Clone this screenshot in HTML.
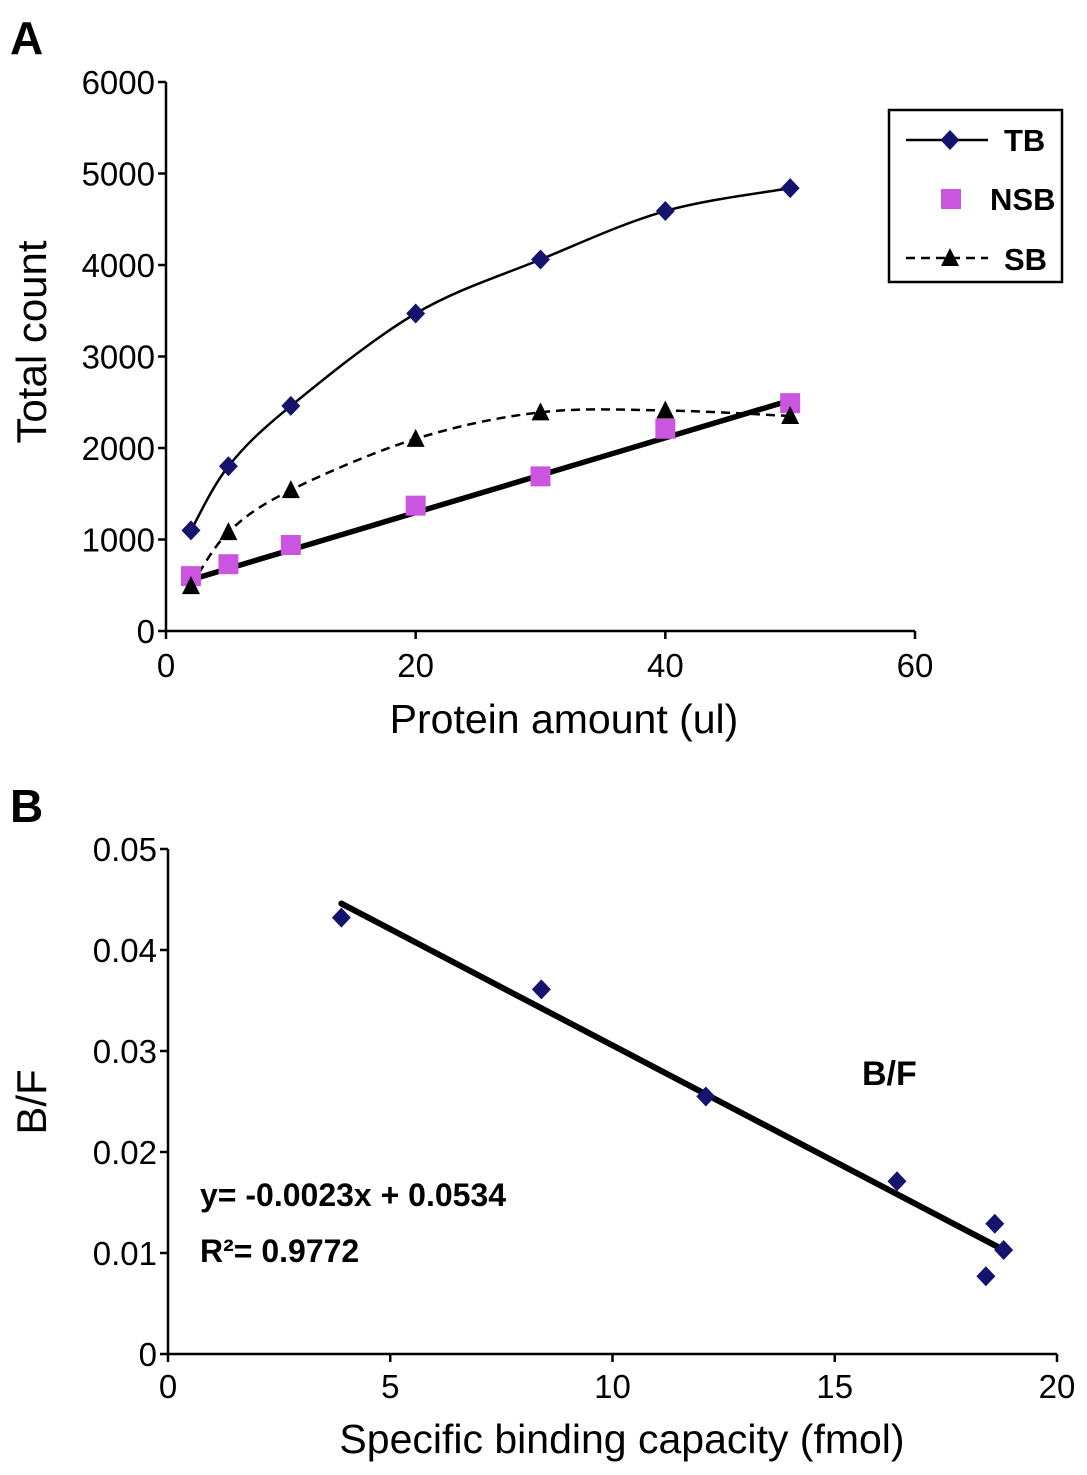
<!DOCTYPE html>
<html><head><meta charset="utf-8">
<style>
html,body{margin:0;padding:0;background:#fff;}
svg{display:block;font-family:"Liberation Sans",sans-serif;}
</style></head>
<body>
<svg id="chart" width="1087" height="1475" viewBox="0 0 1087 1475" xmlns="http://www.w3.org/2000/svg">
<g id="gA"></g>
<g id="gB"></g>
</svg>
<script>
// Panel A data
const xA = [2, 5, 10, 20, 30, 40, 50];
const tbVals = [1100, 1800, 2460, 3470, 4060, 4590, 4840];
const nsbVals = [600, 730, 940, 1370, 1690, 2210, 2490];
const sbVals = [490, 1080, 1540, 2100, 2390, 2410, 2350];
const nsbTrend = [[2, 560], [50, 2520]];
const xTicksA = [0, 20, 40, 60];
const yTicksA = [0, 1000, 2000, 3000, 4000, 5000, 6000];
// Panel B data
const xB = [3.9, 8.4, 12.1, 16.4, 18.6, 18.8, 18.4];
const bfVals = [0.0432, 0.0361, 0.0255, 0.0171, 0.0129, 0.0103, 0.0077];
const bfTrend = [[3.9, 0.0446], [18.8, 0.0103]];
const xTicksB = [0, 5, 10, 15, 20];
const yTicksB = [0, 0.01, 0.02, 0.03, 0.04, 0.05];

const NS = "http://www.w3.org/2000/svg";
function el(parent, tag, attrs, text) {
  const e = document.createElementNS(NS, tag);
  for (const k in attrs) e.setAttribute(k, attrs[k]);
  if (text !== undefined) e.textContent = text;
  parent.appendChild(e);
  return e;
}
const sxA = v => 166 + v * (915 - 166) / 60;
const syA = v => 631 - v * (631 - 82) / 6000;
const sxB = v => 168 + v * (1057 - 168) / 20;
const syB = v => 1354 - v * (1354 - 849) / 0.05;

function smooth(pts) {
  let d = `M${pts[0][0]},${pts[0][1]}`;
  for (let i = 0; i < pts.length - 1; i++) {
    const p0 = pts[Math.max(0, i - 1)], p1 = pts[i], p2 = pts[i + 1], p3 = pts[Math.min(pts.length - 1, i + 2)];
    const c1 = [p1[0] + (p2[0] - p0[0]) / 6, p1[1] + (p2[1] - p0[1]) / 6];
    const c2 = [p2[0] - (p3[0] - p1[0]) / 6, p2[1] - (p3[1] - p1[1]) / 6];
    d += ` C${c1[0]},${c1[1]} ${c2[0]},${c2[1]} ${p2[0]},${p2[1]}`;
  }
  return d;
}
function diamond(g, x, y, r, name) {
  const e = el(g, "polygon", {points: `${x},${y - r} ${x + r * 0.95},${y} ${x},${y + r} ${x - r * 0.95},${y}`, fill: "#14146e"});
  
  
}

// ---------- Panel A ----------
const gA = document.getElementById("gA");
let t = el(gA, "text", {x: 10, y: 54, "font-size": 46, "font-weight": "bold"}, "A");
 
let ax = el(gA, "path", {d: `M166,82 V631 H915`, stroke: "#000", "stroke-width": 2.5, fill: "none"});
 
yTicksA.forEach(v => {
  el(gA, "line", {x1: 158, x2: 166, y1: syA(v), y2: syA(v), stroke: "#000", "stroke-width": 2.5});
  const l = el(gA, "text", {x: 155, y: syA(v) + 12, "font-size": 33, "text-anchor": "end"}, v);
   
});
xTicksA.forEach(v => {
  el(gA, "line", {x1: sxA(v), x2: sxA(v), y1: 631, y2: 639, stroke: "#000", "stroke-width": 2.5});
  const l = el(gA, "text", {x: sxA(v), y: 677, "font-size": 33, "text-anchor": "middle"}, v);
   
});
t = el(gA, "text", {x: 564, y: 733, "font-size": 41, "text-anchor": "middle"}, "Protein amount (ul)");
 
t = el(gA, "text", {x: 0, y: 0, "font-size": 42, "text-anchor": "middle", transform: "translate(46,342) rotate(-90)"}, "Total count");
 

let p = el(gA, "line", {x1: sxA(nsbTrend[0][0]), y1: syA(nsbTrend[0][1]), x2: sxA(nsbTrend[1][0]), y2: syA(nsbTrend[1][1]), stroke: "#000", "stroke-width": 5.5});
 
p = el(gA, "path", {d: smooth(xA.map((x, i) => [sxA(x), syA(sbVals[i])])), stroke: "#000", "stroke-width": 2.5, "stroke-dasharray": "9,6", fill: "none"});
 
p = el(gA, "path", {d: smooth(xA.map((x, i) => [sxA(x), syA(tbVals[i])])), stroke: "#000", "stroke-width": 2.5, fill: "none"});
 
xA.forEach((x, i) => {
  const s = el(gA, "rect", {x: sxA(x) - 10, y: syA(nsbVals[i]) - 10, width: 20, height: 20, fill: "#cc55e0"});
   
  const tr = el(gA, "polygon", {points: `${sxA(x)},${syA(sbVals[i]) - 10} ${sxA(x) + 9},${syA(sbVals[i]) + 8} ${sxA(x) - 9},${syA(sbVals[i]) + 8}`, fill: "#000"});
   
  diamond(gA, sxA(x), syA(tbVals[i]), 10, 'tb-point');
});
// legend
const lg = el(gA, "g", {});
 
el(lg, "rect", {x: 889, y: 110, width: 173, height: 172, fill: "#fff", stroke: "#000", "stroke-width": 2.5});
el(lg, "line", {x1: 906, x2: 988, y1: 140, y2: 140, stroke: "#000", "stroke-width": 2.5});
diamond(lg, 950, 140, 10, 'legend-tb-marker');
t = el(lg, "text", {x: 1004, y: 151, "font-size": 31, "font-weight": "bold"}, "TB");
 
el(lg, "rect", {x: 941, y: 189, width: 20, height: 20, fill: "#cc55e0"});
t = el(lg, "text", {x: 990, y: 210, "font-size": 31, "font-weight": "bold"}, "NSB");
 
el(lg, "line", {x1: 906, x2: 988, y1: 258, y2: 258, stroke: "#000", "stroke-width": 2.5, "stroke-dasharray": "9,6"});
el(lg, "polygon", {points: "950,248 959,266 941,266", fill: "#000"});
t = el(lg, "text", {x: 1004, y: 270, "font-size": 31, "font-weight": "bold"}, "SB");
 

// ---------- Panel B ----------
const gB = document.getElementById("gB");
t = el(gB, "text", {x: 10, y: 822, "font-size": 46, "font-weight": "bold"}, "B");
 
ax = el(gB, "path", {d: `M168,849 V1354 H1057`, stroke: "#000", "stroke-width": 2.5, fill: "none"});
 
yTicksB.forEach(v => {
  el(gB, "line", {x1: 160, x2: 168, y1: syB(v), y2: syB(v), stroke: "#000", "stroke-width": 2.5});
  const l = el(gB, "text", {x: 157, y: syB(v) + 12, "font-size": 33, "text-anchor": "end"}, v === 0 ? "0" : v.toFixed(2));
   
});
xTicksB.forEach(v => {
  el(gB, "line", {x1: sxB(v), x2: sxB(v), y1: 1354, y2: 1362, stroke: "#000", "stroke-width": 2.5});
  const l = el(gB, "text", {x: sxB(v), y: 1398, "font-size": 33, "text-anchor": "middle"}, v);
   
});
t = el(gB, "text", {x: 622, y: 1453, "font-size": 41, "text-anchor": "middle"}, "Specific binding capacity (fmol)");
 
t = el(gB, "text", {x: 0, y: 0, "font-size": 42, "text-anchor": "middle", transform: "translate(46,1102) rotate(-90)"}, "B/F");
 
p = el(gB, "line", {x1: sxB(bfTrend[0][0]), y1: syB(bfTrend[0][1]), x2: sxB(bfTrend[1][0]), y2: syB(bfTrend[1][1]), stroke: "#000", "stroke-width": 6, "stroke-linecap": "round"});
 
xB.forEach((x, i) => diamond(gB, sxB(x), syB(bfVals[i]), 10, 'bf-point'));
t = el(gB, "text", {x: 862, y: 1085, "font-size": 34, "font-weight": "bold"}, "B/F");
 
t = el(gB, "text", {x: 200, y: 1206, "font-size": 32, "font-weight": "bold"}, "y= -0.0023x + 0.0534");
 
t = el(gB, "text", {x: 200, y: 1262, "font-size": 32, "font-weight": "bold"}, "R\u00B2= 0.9772");
 
</script>
</body></html>
